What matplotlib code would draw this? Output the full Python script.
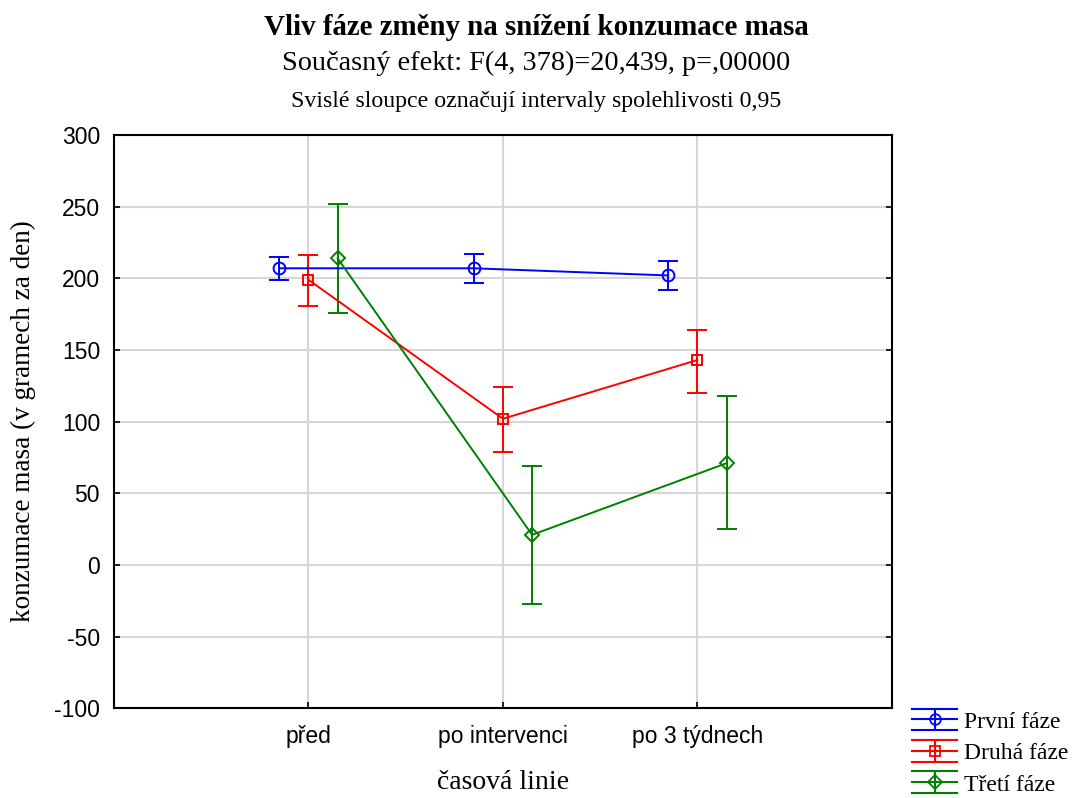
import numpy as np
import matplotlib
matplotlib.use("Agg")
import matplotlib.pyplot as plt
from matplotlib.legend_handler import HandlerBase
from matplotlib.lines import Line2D

# mean consumption and 0.95 confidence limits per phase
categories = ["před", "po intervenci", "po 3 týdnech"]
series = ["První fáze", "Druhá fáze", "Třetí fáze"]
means = [
    [207, 207, 202],
    [199, 102, 143],
    [214, 21, 71],
]
lower = [
    [199, 197, 192],
    [181, 79, 120],
    [176, -27, 25],
]
upper = [
    [215, 217, 212],
    [216, 124, 164],
    [252, 69, 118],
]
colors = ["#0000ff", "#ff0000", "#008000"]
markers = ["o", "s", "D"]
msizes = [8.5, 7.5, 7.5]
offsets = [-0.15, 0.0, 0.15]

serif = "Liberation Serif"
sans = "Liberation Sans"


class ErrHandle(HandlerBase):
    # legend key: line with marker plus full-width caps above and below
    def __init__(self, color, marker, ms):
        super().__init__()
        self.color, self.marker, self.ms = color, marker, ms

    def create_artists(self, legend, orig_handle, xdescent, ydescent,
                       width, height, fontsize, trans):
        x0, x1 = -xdescent, -xdescent + width
        yc = -ydescent + height / 2
        dy = height * 0.66
        xm = (x0 + x1) / 2
        arts = []
        for y in (yc - dy, yc, yc + dy):
            arts.append(Line2D([x0, x1], [y, y], color=self.color, lw=1.5, transform=trans))
        arts.append(Line2D([xm, xm], [yc - dy, yc + dy], color=self.color, lw=1.5, transform=trans))
        arts.append(Line2D([xm], [yc], marker=self.marker, ms=self.ms, mfc="none",
                           mec=self.color, mew=1.3, color=self.color, transform=trans))
        return arts


fig = plt.figure(figsize=(10.72, 7.98), dpi=100)
ax = fig.add_axes([0.1063, 0.1125, 0.7257, 0.7183])

x = np.arange(1, len(categories) + 1)
handles = []
for i in range(len(series)):
    m = np.array(means[i])
    err = np.array([m - np.array(lower[i]), np.array(upper[i]) - m])
    ax.errorbar(x + offsets[i], m, yerr=err, color=colors[i], marker=markers[i],
                ms=msizes[i], mfc="none", mec=colors[i], mew=1.4, lw=1.4,
                elinewidth=1.4, capsize=7, capthick=1.4, zorder=3)
    handles.append(Line2D([], [], color=colors[i]))

ax.set_xlim(0, 4)
ax.set_ylim(-100, 300)
ax.set_xticks(x)
ax.set_xticklabels(categories, fontfamily=sans, fontsize=16.5)
ax.set_yticks(np.arange(-100, 301, 50))
ax.set_yticklabels([str(v) for v in range(-100, 301, 50)], fontfamily=sans, fontsize=16.5)
ax.tick_params(direction="in", length=4, width=1.2, top=False, right=True)
ax.tick_params(axis="y", pad=10)
ax.tick_params(axis="x", pad=12)
ax.grid(True, color="#d6d6d6", lw=1.5, zorder=0)
ax.set_axisbelow(True)
for sp in ax.spines.values():
    sp.set_linewidth(1.5)

ax.set_xlabel("časová linie", fontfamily=serif, fontsize=20, va="center")
ax.xaxis.set_label_coords(0.5, -0.13)
ax.set_ylabel("konzumace masa (v gramech za den)", fontfamily=serif, fontsize=19.5, va="center")
ax.yaxis.set_label_coords(-0.116, 0.5)

fig.text(0.5, 0.966, "Vliv fáze změny na snížení konzumace masa", ha="center", va="center",
         fontfamily=serif, fontsize=20.8, fontweight="bold")
fig.text(0.5, 0.920, "Současný efekt: F(4, 378)=20,439, p=,00000", ha="center", va="center",
         fontfamily=serif, fontsize=20.3)
fig.text(0.5, 0.873, "Svislé sloupce označují intervaly spolehlivosti 0,95", ha="center",
         va="center", fontfamily=serif, fontsize=17.2)

hmap = {h: ErrHandle(colors[i], markers[i], msizes[i] * 0.9) for i, h in enumerate(handles)}
fig.legend(handles, series, handler_map=hmap, loc="lower left",
           bbox_to_anchor=(0.849, 0.0), frameon=False, handlelength=1.9,
           handletextpad=0.3, labelspacing=0.42, borderpad=0.1, borderaxespad=0.0,
           prop={"family": serif, "size": 17})

fig.savefig("out.png", dpi=100)
